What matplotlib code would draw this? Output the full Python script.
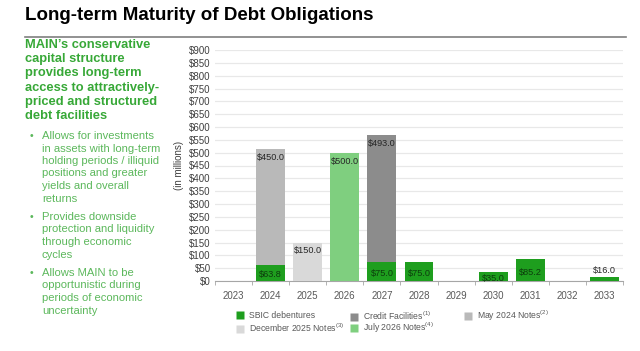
import matplotlib
matplotlib.use("Agg")
import matplotlib.pyplot as plt
from matplotlib.lines import Line2D
import numpy as np

plt.rcParams['font.family'] = ['Liberation Sans', 'DejaVu Sans']
plt.rcParams['mathtext.fontset'] = 'custom'
plt.rcParams['mathtext.rm'] = 'Liberation Sans'
plt.rcParams['mathtext.it'] = 'Liberation Sans'

# ---- data ----
years = ['2023', '2024', '2025', '2026', '2027', '2028', '2029', '2030', '2031', '2032', '2033']
sbic = [0, 63.8, 0, 0, 75.0, 75.0, 0, 35.0, 85.2, 0, 16.0]
credit = [0, 0, 0, 0, 493.0, 0, 0, 0, 0, 0, 0]
may2024 = [0, 450.0, 0, 0, 0, 0, 0, 0, 0, 0, 0]
dec2025 = [0, 0, 150.0, 0, 0, 0, 0, 0, 0, 0, 0]
jul2026 = [0, 0, 0, 500.0, 0, 0, 0, 0, 0, 0, 0]
yticks = list(range(0, 901, 50))

c_sbic = '#1e9e1e'
c_credit = '#8c8c8c'
c_may = '#b9b9b9'
c_dec = '#d9d9d9'
c_jul = '#7fcf7f'

W, H = 640, 351
fig = plt.figure(figsize=(6.4, 3.51), dpi=100)

# title and rule
fig.text(25 / W, 1 - 16 / H, 'Long-term Maturity of Debt Obligations', fontsize=13.5,
         fontweight='bold', color='#000000', va='center', ha='left')
fig.add_artist(plt.Line2D([25 / W, 626 / W], [1 - 37 / H, 1 - 37 / H], color='#7f7f7f', lw=1.2))

# left side text
heading = ["MAIN\u2019s conservative", "capital structure", "provides long-term",
           "access to attractively-", "priced and structured", "debt facilities"]
for i, line in enumerate(heading):
    fig.text(25 / W, 1 - (45 + i * 14.2) / H, line, fontsize=9.3, fontweight='bold',
             color='#37a837', va='center', ha='left')

bullets = [
    (136, ["Allows for investments", "in assets with long-term", "holding periods / illiquid",
           "positions and greater", "yields and overall", "returns"]),
    (217, ["Provides downside", "protection and liquidity", "through economic", "cycles"]),
    (273, ["Allows MAIN to be", "opportunistic during", "periods of economic", "uncertainty"]),
]
for y0, lines in bullets:
    fig.text(30 / W, 1 - y0 / H, '\u2022', fontsize=7.5, color='#5cb85c', va='center', ha='left')
    for i, line in enumerate(lines):
        fig.text(42 / W, 1 - (y0 + i * 12.5) / H, line, fontsize=8.1,
                 color='#5cb85c', va='center', ha='left')

# chart
ax = fig.add_axes([215 / W, 1 - 281 / H, (623 - 215) / W, (281 - 50) / H])
x = np.arange(len(years))
bw = 0.78
sbic_a = np.array(sbic)
bottoms = sbic_a.copy()
ax.bar(x, sbic, bw, color=c_sbic, zorder=3)
series = [(credit, c_credit), (may2024, c_may), (dec2025, c_dec), (jul2026, c_jul)]
for vals, col in series:
    v = np.array(vals)
    ax.bar(x, v, bw, bottom=bottoms, color=col, zorder=3)
    for xi, vi, bi in zip(x, v, bottoms):
        if vi > 0:
            ax.annotate(f'${vi:.1f}', (xi, bi + vi), xytext=(0, -6), textcoords='offset points',
                        ha='center', va='center', fontsize=6.6, color='#262626', zorder=4)
    bottoms = bottoms + v

for xi, vi in zip(x, sbic_a):
    if vi <= 0:
        continue
    if vi < 25:
        ax.annotate(f'${vi:.1f}', (xi, vi), xytext=(0, 1.5), textcoords='offset points',
                    ha='center', va='bottom', fontsize=6.6, color='#262626', zorder=4)
    else:
        ax.annotate(f'${vi:.1f}', (xi, vi / 2), xytext=(0, -1.5), textcoords='offset points',
                    ha='center', va='center', fontsize=6.6, color='#0d3d0d', zorder=4)

ax.set_xlim(-0.5, len(years) - 0.5)
ax.set_ylim(0, 900)
ax.set_yticks(yticks)
ax.set_yticklabels([f'${v}' for v in yticks], fontsize=7, color='#404040')
ax.yaxis.grid(True, color='#e8e8e8', lw=0.9, zorder=0)
ax.set_axisbelow(True)
ax.set_xticks(x)
ax.set_xticklabels(years, fontsize=7, color='#595959')
ax.set_xticks(np.arange(-0.5, len(years), 1.0), minor=True)
ax.tick_params(axis='x', which='major', length=0, pad=7)
ax.tick_params(axis='x', which='minor', length=3, color='#a6a6a6')
ax.tick_params(axis='y', length=0, pad=3)
for s in ['top', 'right', 'left']:
    ax.spines[s].set_visible(False)
ax.spines['bottom'].set_color('#a6a6a6')
ax.set_ylabel('(in millions)', fontsize=7, color='#404040', labelpad=4)

# legend entries: (label, colour, x px, y px)
legend_items = [
    ('SBIC debentures', c_sbic, 236, 316),
    ('December 2025 Notes$^{(3)}$', c_dec, 236, 328),
    ('Credit Facilities$^{(1)}$', c_credit, 350, 316),
    ('July 2026 Notes$^{(4)}$', c_jul, 350, 328),
    ('May 2024 Notes$^{(2)}$', c_may, 464, 316),
]
for label, c, xl, yl in legend_items:
    h = Line2D([], [], marker='s', linestyle='none', markersize=6,
               markerfacecolor=c, markeredgecolor='none')
    fig.legend([h], [label], loc='center left', bbox_to_anchor=(xl / W, 1 - yl / H),
               frameon=False, fontsize=6.2, handlelength=1.0, handleheight=1.0,
               handletextpad=0.5, borderpad=0, borderaxespad=0,
               labelcolor='#595959')

fig.savefig('out.png', dpi=100, facecolor='white')
